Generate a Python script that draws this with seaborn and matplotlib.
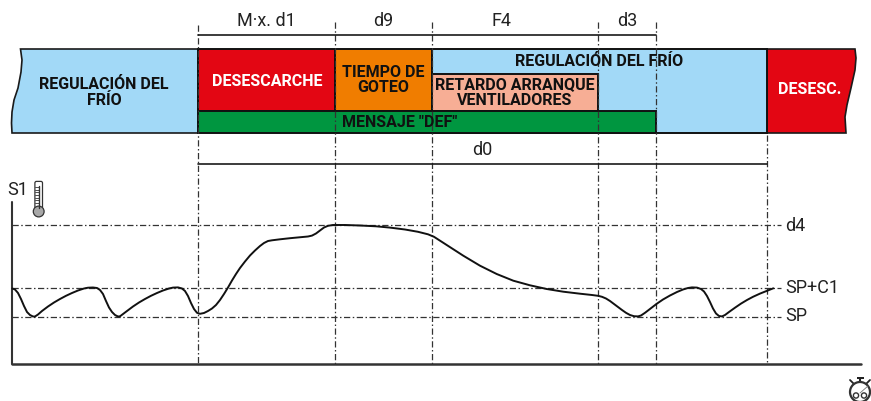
import numpy as np
import pandas as pd
import seaborn as sns
import matplotlib.pyplot as plt
from matplotlib.patches import Polygon, Rectangle, Circle, FancyBboxPatch

# S1 curve
time_x = [12.3, 15, 18, 21, 24, 27, 30, 33, 35, 38, 42, 48, 54, 60, 66, 72, 78, 84, 88, 93, 97, 100, 103, 106, 109,
          112, 115, 118, 120, 123, 127, 133, 139, 145, 151, 157, 163, 169, 173, 178, 182, 185, 188, 191, 194, 197,
          200, 204, 208, 212, 216, 220, 224, 228, 232, 236, 240, 245, 250, 255, 260, 264, 268, 272, 280, 290, 300,
          308, 312, 316, 320, 324, 328, 333, 345, 360, 376, 390, 405, 418, 428, 434, 446.7, 463.3, 480, 496.7,
          513.3, 530, 546.7, 563.3, 580, 592, 598, 602, 606, 610, 614, 618, 622, 626, 630, 634, 638, 641, 645,
          650, 656.7, 663, 670, 677, 683, 688, 692, 697, 701, 704, 707, 710, 713, 716, 719, 722, 725, 729, 735,
          741, 747, 753, 760, 767, 773.3]
s1_y = [288.5, 289.5, 293, 299, 306, 312, 315, 316.5, 316.5, 314.5, 311, 306.5, 302.5, 299, 295.8, 293, 290.5, 288.5,
        287.7, 287.5, 288, 290, 294, 301, 307.5,
        312, 315, 316.5, 316.3, 314, 311, 306.5, 302.5, 299, 295.8, 293, 290.5, 288.5, 287.6, 287.4, 288.5, 291, 296,
        303, 309, 312.8,
        313.8, 313, 311, 308.5, 305, 300, 294, 287.5, 280.5, 274, 268, 261.5, 255.5, 250.5, 246, 243, 241, 240.3,
        239.3, 238.2, 237.3,
        236.5, 235.6, 233.5, 230.5, 227.5, 225.8, 225, 225, 225.5, 226.3, 227.6, 229.5, 231.8, 234.3, 236.8, 245,
        255.7, 265.7, 274,
        280.7, 285.3, 289, 291.7, 293.7, 295, 295.8, 296.8, 298.5, 301, 304, 307, 310, 312.8, 315, 316.2, 316.4,
        315.5, 312.8,
        309, 303.8, 299.5, 295.5, 292, 289.5, 288, 287.4, 287.6, 289, 291.5, 296, 302, 308.5, 313.5, 316, 316.4,
        315, 312, 307.7,
        303.6, 300, 296.8, 293.6, 290.8, 288.3]

# phase boundaries
phase_x = [198, 335, 431.5, 598, 655.7, 767]
phase_top = [25, 22, 22, 22, 22, 135]

# top band blocks: label, left, right, top, bottom, colour
block_names = ["DESESCARCHE", "TIEMPO DE\nGOTEO", "REGULACIÓN DEL FRÍO", "RETARDO ARRANQUE\nVENTILADORES", 'MENSAJE "DEF"']
block_left = [198, 335, 431.5, 431.5, 198]
block_right = [335, 431.5, 767, 598, 655.7]
block_top = [49, 49, 49, 74, 111]
block_bottom = [111, 111, 133, 111, 133]
block_colors = ["#e30613", "#f07d00", "#a2d9f7", "#f7ae95", "#009640"]

# wavy ends of the band
left_edge_x = [20.5, 22, 21, 18, 14, 12, 11.5, 12]
left_edge_y = [49, 60, 72, 88, 100, 112, 123, 133]
right_edge_x = [855, 856, 855, 851, 847, 845, 845.5, 846]
right_edge_y = [49, 58, 70, 88, 105, 117, 125, 133]

limit_names = ["d4", "SP+C1", "SP"]
limit_y = [225, 287.5, 316.5]
limit_label_y = [226, 288, 316]

span_names = ["M·x. d1", "d9", "F4", "d3", "d0"]
span_x = [266, 383, 501, 627, 482]
span_label_y = [21, 21, 21, 21, 150]

BLUE = "#a2d9f7"
RED = "#e30613"
INK = "#1a1a1a"
GUIDE = "#333333"
DASHDOT = (0, (5, 2, 1.2, 2))

sns.set_theme(style="white")
plt.rcParams['font.family'] = ['Roboto', 'DejaVu Sans']

fig = plt.figure(figsize=(8.71, 4.01), dpi=100)
ax = fig.add_axes([0, 0, 1, 1])
ax.set_xlim(0, 871)
ax.set_ylim(401, 0)
ax.axis("off")

# band
ax.add_patch(Polygon(list(zip(left_edge_x, left_edge_y)) + [(198, 133), (198, 49)], fc=BLUE, ec=INK, lw=1.2, zorder=2))
ax.add_patch(Polygon(list(zip(right_edge_x, right_edge_y)) + [(767, 133), (767, 49)], fc=RED, ec=INK, lw=1.2, zorder=2))
for l, r, t, b, c in zip(block_left, block_right, block_top, block_bottom, block_colors):
    ax.add_patch(Rectangle((l, t), r - l, b - t, fc=c, ec="#111111", lw=1.4, zorder=2))

# guides
for x, t in zip(phase_x, phase_top):
    ax.plot([x, x], [t, 364], color=GUIDE, lw=0.9, ls=DASHDOT, zorder=3)
for y in limit_y:
    ax.plot([12, 781], [y, y], color=GUIDE, lw=0.9, ls=DASHDOT, zorder=1)

# dimension lines
ax.plot([198, 655.7], [34.5, 34.5], color=INK, lw=1.2, zorder=3)
ax.plot([198, 767], [163.5, 163.5], color=INK, lw=1.2, zorder=3)

# axes
ax.plot([12.3, 12.3], [202, 364], color="#333333", lw=1.5, zorder=4)
ax.plot([12, 861], [363.7, 363.7], color="#333333", lw=1.8, zorder=4)

# curve
curve = pd.DataFrame({"t": time_x, "s1": s1_y})
sns.lineplot(data=curve, x="t", y="s1", sort=False, estimator=None, color="#111111", lw=1.4, ax=ax, zorder=5)
ax.set_xlabel("")
ax.set_ylabel("")

# band text
bold = dict(fontweight="bold", ha="center", va="center", zorder=6, linespacing=1.08)
ax.text(104, 92.5, "REGULACIÓN DEL\nFRÍO", fontsize=11.5, color="#111111", **bold)
ax.text(267, 81, block_names[0], fontsize=11.5, color="white", **bold)
ax.text(383, 80, block_names[1], fontsize=11.5, color="#111111", **bold)
ax.text(599, 61.5, block_names[2], fontsize=11.5, color="#111111", **bold)
ax.text(514.5, 93, block_names[3], fontsize=11.5, color="#111111", **bold)
ax.text(400, 122.5, block_names[4], fontsize=11.5, color="#111111", **bold)
ax.text(810, 90, "DESESC.", fontsize=11.5, color="white", **bold)

# light labels
for name, x, y in zip(span_names, span_x, span_label_y):
    ax.text(x, y, name, fontsize=13, color="#222222", ha="center", va="center", zorder=6)
for name, y in zip(limit_names, limit_label_y):
    ax.text(785, y, name, fontsize=13, color="#222222", ha="left", va="center", zorder=6)
ax.text(7, 190, "S1", fontsize=13, color="#222222", ha="left", va="center", zorder=6)

# thermometer
ax.add_patch(FancyBboxPatch((36.5, 183), 4.4, 24, boxstyle="round,pad=1.6", fc="white", ec="#333333", lw=0.9, zorder=6))
ax.add_patch(Circle((38.7, 211.5), 5.4, fc="#a8a8a8", ec="#333333", lw=0.9, zorder=6))
ax.plot([38.7, 38.7], [186, 208], color="#333333", lw=1.0, zorder=7)
for y in np.arange(187, 205, 2.7):
    ax.plot([34.5, 39], [y, y], color="#333333", lw=0.6, zorder=7)

# stopwatch
ax.add_patch(Rectangle((857, 376.5), 6.5, 2.6, fc="#222222", ec="none", zorder=6))
ax.plot([860.2, 860.2], [379, 382], color="#222222", lw=1.5, zorder=6)
ax.plot([850, 854], [380, 384], color="#222222", lw=1.3, zorder=6)
ax.plot([870, 866], [380, 384], color="#222222", lw=1.3, zorder=6)
ax.add_patch(Circle((860, 392), 10, fc="white", ec="#333333", lw=1.6, zorder=6))
ax.add_patch(Circle((856, 395.5), 2.6, fc="white", ec="#333333", lw=1.0, zorder=7))
ax.add_patch(Circle((864, 395.5), 2.6, fc="white", ec="#333333", lw=1.0, zorder=7))
ax.plot([860, 868], [393, 386], color="#777777", lw=0.6, zorder=7)

fig.savefig("out.png", dpi=100, facecolor="white")
